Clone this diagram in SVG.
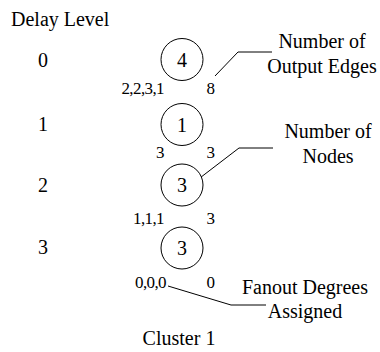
<svg xmlns="http://www.w3.org/2000/svg" width="380" height="352" viewBox="0 0 380 352" font-family="'Liberation Serif', Tinos, 'Times New Roman', 'DejaVu Serif', serif">
  <style>
    text { font-family: 'Liberation Serif', Tinos, 'Times New Roman', 'DejaVu Serif', serif; fill: #000; }
    .big { font-size: 20px; }
    .mid { font-size: 20px; text-anchor: middle; }
    .small { font-size: 17px; }
    .lft { text-anchor: end; letter-spacing: -0.6px; }
    .node circle { fill: #fff; stroke: #000; stroke-width: 1; }
    #connectors path { fill: none; stroke: #000; stroke-width: 1; }
  </style>
  <rect width="380" height="352" fill="#fff"/>

  <!-- delay level column -->
  <g id="delay-levels">
    <text class="big" x="11" y="26">Delay Level</text>
    <text class="mid" x="43" y="67">0</text>
    <text class="mid" x="43" y="131">1</text>
    <text class="mid" x="43" y="192">2</text>
    <text class="mid" x="43" y="254">3</text>
  </g>

  <!-- connectors from annotations -->
  <g id="connectors">
    <path d="M215,76 L238,52 L272,52"/>
    <path d="M192,184 L239,148 L273,148"/>
    <path d="M168,286 L231,305 L266,305"/>
  </g>

  <!-- level 0 -->
  <g id="node-level0" class="node">
    <circle cx="182" cy="59.5" r="21"/>
    <text class="mid" x="182" y="66.5">4</text>
    <text class="small lft" x="164" y="94">2,2,3,1</text>
    <text class="small" x="206.5" y="94">8</text>
  </g>

  <!-- level 1 -->
  <g id="node-level1" class="node">
    <circle cx="182" cy="124.5" r="21"/>
    <text class="mid" x="182" y="131.5">1</text>
    <text class="small lft" x="164" y="158">3</text>
    <text class="small" x="206.5" y="158">3</text>
  </g>

  <!-- level 2 -->
  <g id="node-level2" class="node">
    <circle cx="182" cy="185" r="21"/>
    <text class="mid" x="182" y="192">3</text>
    <text class="small lft" x="164" y="224">1,1,1</text>
    <text class="small" x="206.5" y="224">3</text>
  </g>

  <!-- level 3 -->
  <g id="node-level3" class="node">
    <circle cx="182" cy="248" r="21"/>
    <text class="mid" x="182" y="255">3</text>
    <text class="small lft" x="166" y="288">0,0,0</text>
    <text class="small" x="206.5" y="288">0</text>
  </g>

  <!-- annotations -->
  <g id="label-output-edges">
    <text class="mid" x="322" y="48">Number of</text>
    <text class="mid" x="322" y="73">Output Edges</text>
  </g>
  <g id="label-nodes">
    <text class="mid" x="328" y="138">Number of</text>
    <text class="mid" x="328" y="163">Nodes</text>
  </g>
  <g id="label-fanout">
    <text class="mid" x="305" y="294">Fanout Degrees</text>
    <text class="mid" x="305" y="318">Assigned</text>
  </g>
  <g id="cluster-title">
    <text class="mid" x="179" y="345">Cluster 1</text>
  </g>
</svg>
